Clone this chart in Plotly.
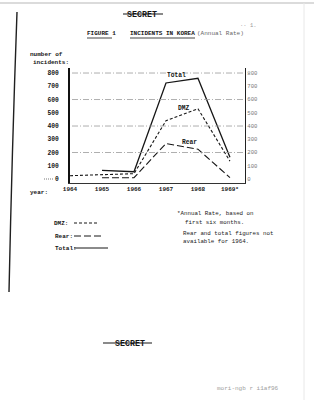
import plotly.graph_objects as go

# ---- data ----
years = [1964, 1965, 1966, 1967, 1968, 1969]
year_labels = ["1964", "1965", "1966", "1967", "1968", "1969*"]
total_years = [1965, 1966, 1967, 1968, 1969]
total = [65, 55, 725, 760, 165]
dmz_years = [1964, 1965, 1966, 1967, 1968, 1969]
dmz = [25, 35, 40, 440, 530, 135]
rear_years = [1965, 1966, 1967, 1968, 1969]
rear = [10, 10, 268, 225, 10]
y_ticks = [0, 100, 200, 300, 400, 500, 600, 700, 800]
grid_vals = [200, 400, 600, 800]

W, H = 314, 400
def px(x):
    return x / W
def py(y):
    return 1 - y / H

FONT = "Liberation Mono"
INK = "#161616"

fig = go.Figure()
fig.add_trace(go.Scatter(x=total_years, y=total, mode="lines",
                         line=dict(color=INK, width=1.3), showlegend=False))
fig.add_trace(go.Scatter(x=dmz_years, y=dmz, mode="lines",
                         line=dict(color=INK, width=1.1, dash="3px,2px"), showlegend=False))
fig.add_trace(go.Scatter(x=rear_years, y=rear, mode="lines",
                         line=dict(color=INK, width=1.1, dash="7px,3px"), showlegend=False))
# invisible trace for right axis
fig.add_trace(go.Scatter(x=[years[0]], y=[0], yaxis="y2", mode="markers",
                         marker=dict(opacity=0), showlegend=False, hoverinfo="skip"))

shapes = []
for g in grid_vals:
    shapes.append(dict(type="line", xref="paper", yref="y", x0=px(72), x1=px(244),
                       y0=g, y1=g, line=dict(color="#9a9a9a", width=0.8, dash="6px,2px,1px,2px")))

# legend key lines
shapes.append(dict(type="line", xref="paper", yref="paper", x0=px(74), x1=px(98),
                   y0=py(223), y1=py(223), line=dict(color=INK, width=1, dash="3px,2px")))
shapes.append(dict(type="line", xref="paper", yref="paper", x0=px(74), x1=px(103),
                   y0=py(236), y1=py(236), line=dict(color=INK, width=1, dash="7px,3px")))
shapes.append(dict(type="line", xref="paper", yref="paper", x0=px(74), x1=px(108),
                   y0=py(248), y1=py(248), line=dict(color=INK, width=1)))
# dotted leader to 0
shapes.append(dict(type="line", xref="paper", yref="paper", x0=px(44), x1=px(54),
                   y0=py(179), y1=py(179), line=dict(color="#555", width=0.8, dash="1px,1px")))
# strike-through lines for SECRET
shapes.append(dict(type="line", xref="paper", yref="paper", x0=px(123), x1=px(163),
                   y0=py(14), y1=py(14), line=dict(color=INK, width=1.2)))
shapes.append(dict(type="line", xref="paper", yref="paper", x0=px(103), x1=px(152),
                   y0=py(343), y1=py(343), line=dict(color=INK, width=1.2)))
# underlines in title
shapes.append(dict(type="line", xref="paper", yref="paper", x0=px(87), x1=px(112),
                   y0=py(38), y1=py(38), line=dict(color=INK, width=0.8)))
shapes.append(dict(type="line", xref="paper", yref="paper", x0=px(130), x1=px(195),
                   y0=py(38), y1=py(38), line=dict(color=INK, width=0.8)))
# page edges / scan artefacts
shapes.append(dict(type="line", xref="paper", yref="paper", x0=0, x1=1,
                   y0=py(3), y1=py(3), line=dict(color="#b8b8b8", width=1.2)))
shapes.append(dict(type="line", xref="paper", yref="paper", x0=px(304), x1=px(304),
                   y0=py(3), y1=py(400), line=dict(color="#e8e8e8", width=1)))
shapes.append(dict(type="path", xref="paper", yref="paper",
                   path=f"M {px(17)} {py(12)} Q {px(12)} {py(150)} {px(9)} {py(292)}",
                   line=dict(color="#202020", width=1.4)))

ann = []
def T(x, y, s, size=6, color=INK, anchor="left", bold=True):
    ann.append(dict(x=px(x), y=py(y), xref="paper", yref="paper",
                    text=("<b>" + s + "</b>") if bold else s,
                    showarrow=False, xanchor=anchor, yanchor="middle",
                    borderpad=0, borderwidth=0,
                    font=dict(family=FONT, size=size, color=color)))

T(142, 14, "SECRET", size=8.3, anchor="center")
T(240, 25, "·· 1.", size=5.5, color="#999", bold=False)
T(87, 34, "FIGURE 1", size=6)
T(130, 34, "INCIDENTS IN KOREA", size=6)
T(197, 34, "(Annual Rate)", size=6, color="#666", bold=False)
T(30, 54, "number of", size=6)
T(33, 62, "incidents:", size=6)
T(30, 192, "year:", size=6)
T(167, 76, "Total", size=6.3)
T(178, 108, "DMZ", size=6.3)
T(182, 143, "Rear", size=6.3)
T(54, 223, "DMZ:", size=6)
T(55, 236, "Rear:", size=6)
T(55, 248, "Total:", size=6)
T(177, 213, "*Annual Rate, based on", size=5.8, color="#222", bold=False)
T(185, 222, "first six months.", size=5.8, color="#222", bold=False)
T(183, 233, "Rear and total figures not", size=5.8, color="#222", bold=False)
T(183, 241, "available for 1964.", size=5.8, color="#222", bold=False)
T(130, 343, "SECRET", size=8.3, anchor="center")
T(217, 388, "mori-ngb r i1af96", size=6, color="#a0a0a0", bold=False)

fig.update_layout(
    width=W, height=H, autosize=False,
    margin=dict(l=0, r=0, t=0, b=0, pad=0),
    paper_bgcolor="white", plot_bgcolor="white",
    shapes=shapes, annotations=ann,
    xaxis=dict(domain=[px(70), px(245)], range=[1964, 1969.47], automargin=False,
               tickvals=years, ticktext=["<b>" + t + "</b>" for t in year_labels],
               tickfont=dict(family=FONT, size=6, color=INK),
               showgrid=False, zeroline=False, showline=True, linecolor="#333", linewidth=1,
               ticks="", fixedrange=True),
    yaxis=dict(domain=[py(183), py(68)], range=[-30.2, 838], automargin=False,
               tickvals=y_ticks, ticktext=["<b>" + str(v) + "</b>" for v in y_ticks],
               tickfont=dict(family=FONT, size=6.3, color=INK),
               ticklabelstandoff=8,
               showgrid=False, zeroline=False, showline=True, linecolor="#111", linewidth=2,
               ticks="", fixedrange=True),
    yaxis2=dict(overlaying="y", side="right", range=[-30.2, 838], automargin=False,
                tickvals=y_ticks, ticktext=[str(v) for v in y_ticks],
                tickfont=dict(family=FONT, size=5.6, color="#777"),
                showgrid=False, zeroline=False, showline=True, linecolor="#222", linewidth=1.4,
                ticks="", anchor="x", fixedrange=True),
)

fig.write_html("out.html")
